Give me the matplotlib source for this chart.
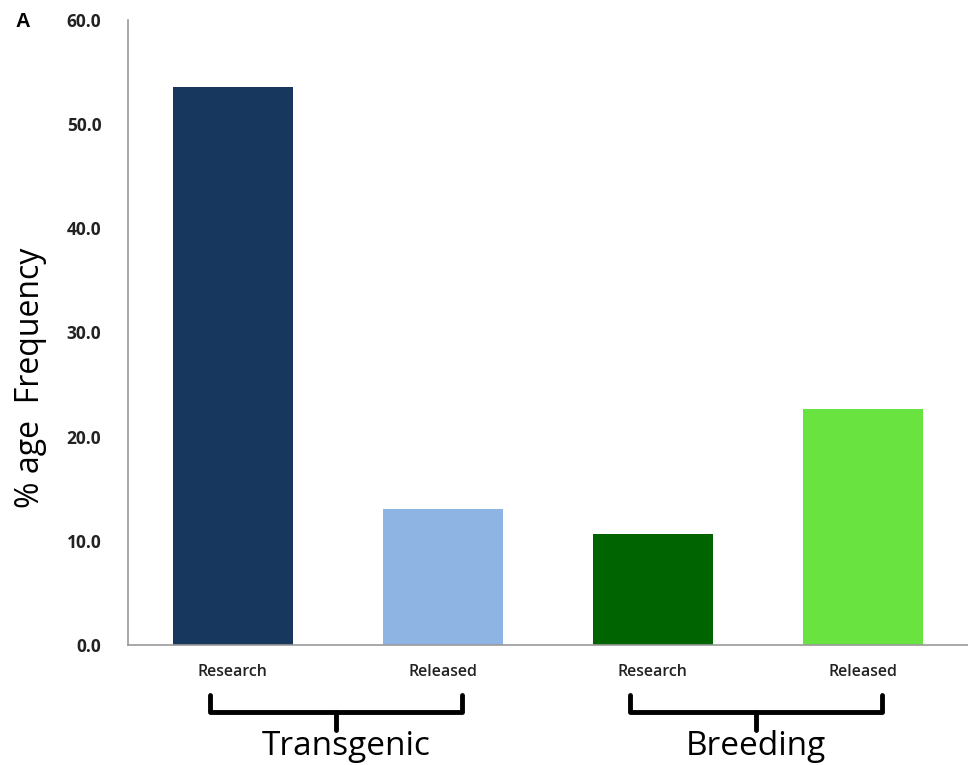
import matplotlib.pyplot as plt
import matplotlib.transforms as mtransforms

# data
categories = ['Research', 'Released', 'Research', 'Released']
values = [53.6, 13.0, 10.6, 22.6]
bar_colors = ['#17375E', '#8DB4E2', '#006400', '#69E33F']
groups = ['Transgenic', 'Breeding']
yticks = [0, 10, 20, 30, 40, 50, 60]

plt.rcParams['font.family'] = ['Open Sans', 'DejaVu Sans']

fig = plt.figure(figsize=(9.68, 7.65), dpi=100)
ax = fig.add_axes([0.132, 0.157, 0.868, 0.817])

x = list(range(len(values)))
ax.bar(x, values, width=0.57, color=bar_colors)

ax.set_xlim(-0.5, 3.5)
ax.set_ylim(0, 60)
ax.set_yticks(yticks)
ax.set_yticklabels([f'{v:.1f}' for v in yticks], fontsize=12.5, fontweight='bold',
                   color='#222222')
ax.tick_params(axis='y', length=0, pad=19)
ax.set_xticks([])

for s in ['top', 'right']:
    ax.spines[s].set_visible(False)
for s in ['left', 'bottom']:
    ax.spines[s].set_color('#999999')
    ax.spines[s].set_linewidth(1.2)

# category labels under each bar
trans = mtransforms.blended_transform_factory(ax.transData, ax.transAxes)
for xi, lab in zip(x, categories):
    ax.text(xi, -0.043, lab, transform=trans, ha='center', va='center',
            fontsize=11.5, fontweight='semibold', color='#222222')

# brackets for the two groups (group label nudged like the original)
label_shift = [0.05, 0.0]
for gi, g in enumerate(groups):
    left = 2 * gi - 0.11
    right = 2 * gi + 1.09
    mid = (left + right) / 2
    ax.plot([left, left, right, right], [-0.08, -0.107, -0.107, -0.08],
            transform=trans, color='black', lw=3.5, clip_on=False,
            solid_joinstyle='round', solid_capstyle='round')
    ax.plot([mid, mid], [-0.107, -0.136], transform=trans, color='black',
            lw=3.5, clip_on=False, solid_capstyle='round')
    ax.text(mid + label_shift[gi], -0.163, g, transform=trans, ha='center',
            va='center', fontsize=24, color='black')

fig.text(0.031, 0.506, '% age  Frequency', rotation=90, ha='center', va='center',
         fontsize=23, color='black')
fig.text(0.023, 0.972, 'A', ha='center', va='center', fontsize=14.5,
         fontweight='bold', color='black', family=['Liberation Sans', 'DejaVu Sans'])

fig.savefig('out.png', dpi=100)
